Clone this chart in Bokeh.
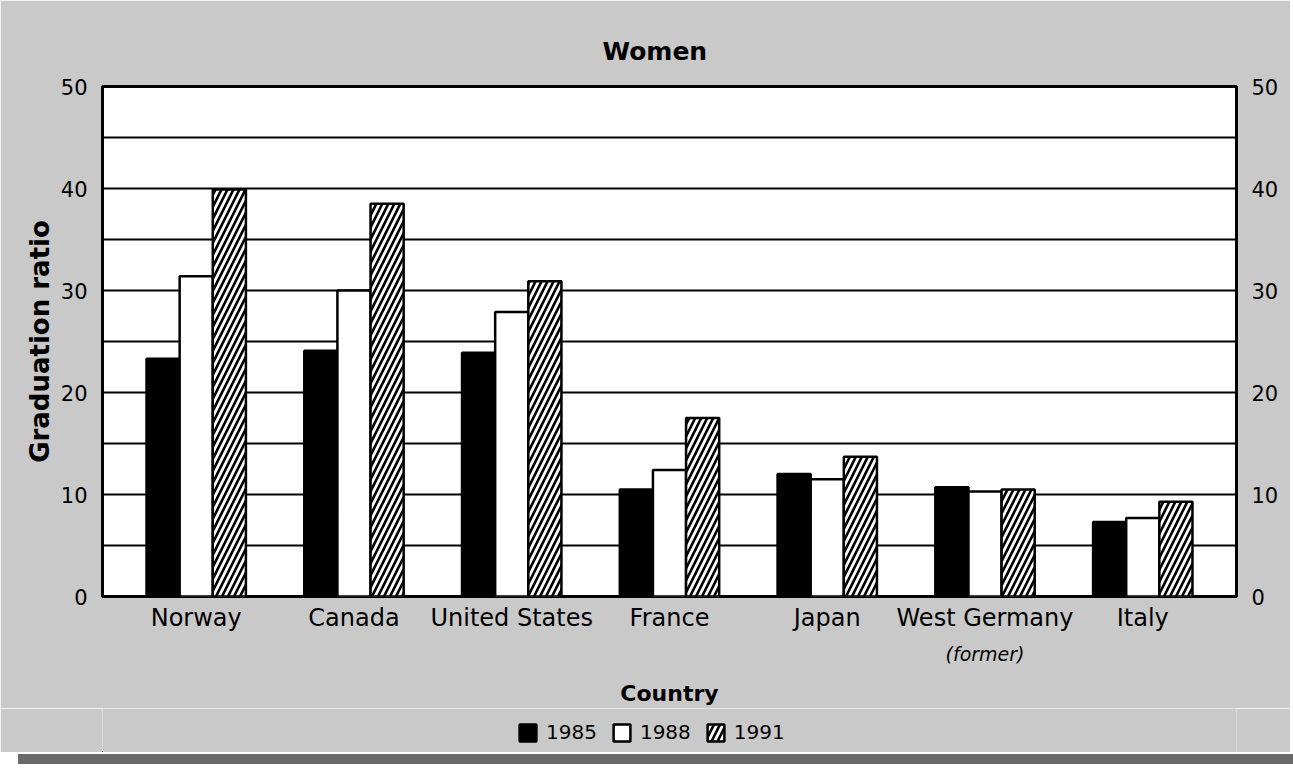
from bokeh.plotting import figure
from bokeh.models import (FactorRange, Range1d, LinearAxis, CategoricalAxis, SingleIntervalTicker,
                          Legend, LegendItem, ColumnDataSource, Div)
from bokeh.transform import dodge
from bokeh.layouts import column
from bokeh.embed import file_html
from bokeh.resources import INLINE

countries = ["Norway", "Canada", "United States", "France", "Japan", "West Germany", "Italy"]
notes = ["", "", "", "", "", "(former)", ""]
years = ["1985", "1988", "1991"]
v1985 = [23.3, 24.1, 23.9, 10.5, 12.0, 10.7, 7.3]
v1988 = [31.4, 30.0, 27.9, 12.4, 11.5, 10.3, 7.7]
v1991 = [39.9, 38.5, 30.9, 17.5, 13.7, 10.5, 9.3]
y_ticks = [0, 10, 20, 30, 40, 50]

FONT = "DejaVu Sans"
BG = "#c9c9c9"
PAD = 0.094

src = ColumnDataSource(dict(country=countries, v1985=v1985, v1988=v1988, v1991=v1991))

# distinct factor names for the note axis (blank ones made unique with plain spaces)
note_factors = [n if n else " " * (i + 1) for i, n in enumerate(notes)]

p = figure(x_range=FactorRange(*countries, range_padding=PAD, range_padding_units="absolute"),
           y_range=Range1d(0, 50),
           frame_width=1134, frame_height=510, output_backend="svg", toolbar_location=None,
           min_border_left=102, min_border_right=54, min_border_top=86, min_border_bottom=110)
p.extra_x_ranges = {"notes": FactorRange(*note_factors, range_padding=PAD, range_padding_units="absolute")}

p.background_fill_color = "white"
p.border_fill_color = BG
p.outline_line_color = "black"
p.outline_line_width = 3

w = 0.21
bar_styles = [dict(fill_color="black", line_color="black", line_width=2.5),
              dict(fill_color="white", line_color="black", line_width=2.5),
              dict(fill_color="white", line_color="black", line_width=2.5,
                   hatch_pattern="/", hatch_color="black", hatch_weight=2.6, hatch_scale=12)]
offsets = [-w, 0.0, w]
cols = ["v1985", "v1988", "v1991"]
for off, col, st in zip(offsets, cols, bar_styles):
    p.vbar(x=dodge("country", off, range=p.x_range), top=col, width=w, source=src, **st)

# grid
p.xgrid.grid_line_color = None
p.ygrid.ticker = SingleIntervalTicker(interval=5)
p.ygrid.grid_line_color = "black"
p.ygrid.grid_line_width = 1.8

# x axis (country names)
xa = p.xaxis[0]
xa.axis_line_color = None
xa.major_tick_line_color = None
xa.minor_tick_line_color = None
xa.major_label_text_font = FONT
xa.major_label_text_font_size = "24px"
xa.major_label_text_color = "black"
xa.major_label_standoff = 1

# second x axis: notes under names + "Country" label
xa2 = CategoricalAxis(x_range_name="notes")
xa2.axis_line_color = None
xa2.major_tick_line_color = None
xa2.minor_tick_line_color = None
xa2.major_label_text_font = FONT
xa2.major_label_text_font_size = "19px"
xa2.major_label_text_font_style = "italic"
xa2.major_label_text_color = "black"
xa2.major_label_standoff = 2
xa2.axis_label = "Country"
xa2.axis_label_text_font = FONT
xa2.axis_label_text_font_size = "22px"
xa2.axis_label_text_font_style = "bold"
xa2.axis_label_text_color = "black"
xa2.axis_label_standoff = 13
p.add_layout(xa2, "below")

# left axis
ya = p.yaxis[0]
ya.ticker = y_ticks
ya.axis_line_color = None
ya.major_tick_line_color = None
ya.minor_tick_line_color = None
ya.major_label_text_font = FONT
ya.major_label_text_font_size = "21px"
ya.major_label_text_color = "black"
ya.major_label_standoff = 9
ya.axis_label = "Graduation ratio"
ya.axis_label_text_font = FONT
ya.axis_label_text_font_size = "26px"
ya.axis_label_text_font_style = "bold"
ya.axis_label_text_color = "black"
ya.axis_label_standoff = 3

# right axis
ra = LinearAxis(ticker=y_ticks)
ra.axis_line_color = None
ra.major_tick_line_color = None
ra.minor_tick_line_color = None
ra.major_label_text_font = FONT
ra.major_label_text_font_size = "21px"
ra.major_label_text_color = "black"
ra.major_label_standoff = 9
p.add_layout(ra, "right")

# title
p.title.text = "Women"
p.title.text_font = FONT
p.title.text_font_size = "25px"
p.title.text_font_style = "bold"
p.title.text_color = "black"
p.title.align = "left"
p.title.offset = 500
p.title.standoff = 41

# legend strip (own small figure; swatches come from renderers with the same styles,
# whose single bar lies far outside the visible ranges)
lg = figure(width=1290, height=44, x_range=Range1d(0, 1), y_range=Range1d(0, 1),
            output_backend="svg", toolbar_location=None,
            min_border_left=0, min_border_right=0, min_border_top=0, min_border_bottom=0)
lg.axis.visible = False
lg.grid.visible = False
lg.outline_line_color = None
lg.background_fill_color = BG
lg.border_fill_color = BG
hidden = ColumnDataSource(dict(x=[-10.0], bottom=[-20.0], top=[-10.0]))
lrs = [lg.vbar(x="x", bottom="bottom", top="top", width=0.1, source=hidden, **st)
       for st in bar_styles]

legend = Legend(items=[LegendItem(label=yr, renderers=[r], index=0) for yr, r in zip(years, lrs)],
                orientation="horizontal", location=(415, 8),
                border_line_color=None, background_fill_alpha=0,
                glyph_width=21, glyph_height=21, label_standoff=8, spacing=14,
                label_text_font=FONT, label_text_font_size="20px", label_text_color="black",
                padding=0, margin=0)
lg.add_layout(legend)

strip = Div(text="", width=1275, height=10,
            styles={"background-color": "#6a6a6a", "margin-left": "18px", "margin-top": "2px"})

layout = column(p, lg, strip, spacing=0)

open("out.html", "w").write(file_html(layout, INLINE))
